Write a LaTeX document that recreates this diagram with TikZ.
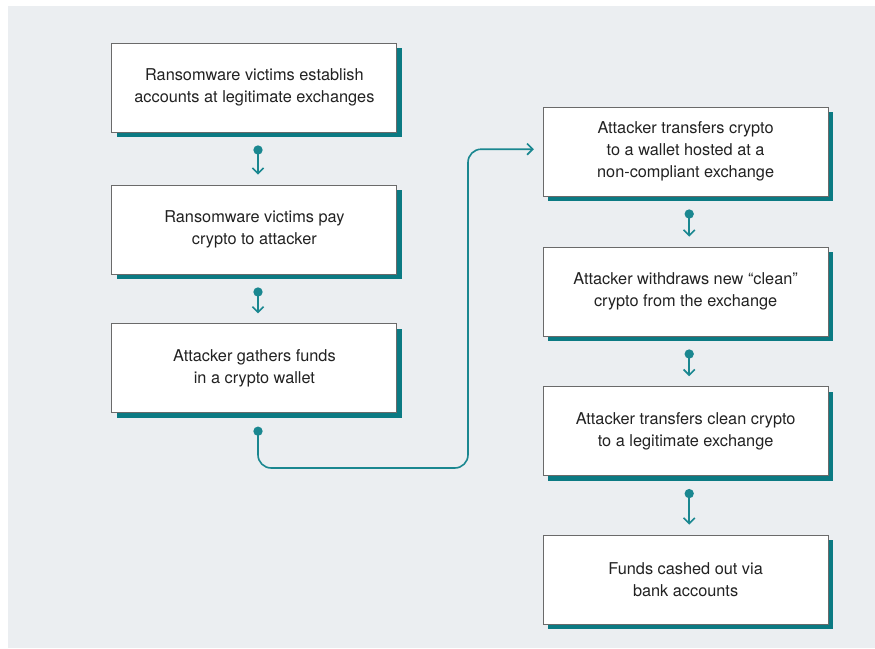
\documentclass[tikz,border=0pt]{standalone}
\usepackage{fontspec}
\setmainfont{TeX Gyre Heros}
\usepackage{xcolor}
\usetikzlibrary{shapes,arrows.meta,shadows}

\definecolor{bgGray}{HTML}{EBEEF1}
\definecolor{tealLine}{HTML}{1A8790}
\definecolor{tealShade}{HTML}{0B7A83}
\definecolor{boxEdge}{HTML}{6A6A6A}
\definecolor{textGray}{HTML}{222222}

\begin{document}
\begin{tikzpicture}
    % Define block styles
    \tikzstyle{stage} = [rectangle, minimum width=7.125cm, minimum height=2.225cm, align=center, draw=boxEdge, line width=0.7pt, fill=white, text=textGray, font=\fontsize{11.6}{15.6}\selectfont, drop shadow={shadow xshift=0.12cm, shadow yshift=-0.12cm, fill=tealShade, opacity=1}]
    \tikzstyle{flow} = [draw=tealLine, line width=1.15pt, {Circle[length=2.3mm]}-{Straight Barb[length=1.4mm, width=2.8mm]}]

    % Background
    \useasboundingbox (0,0) rectangle (21.875,-16.225);
    \fill[bgGray] (0.2,-0.15) rectangle (21.875,-16.2);

    % Draw nodes
    \node (establish) [stage] at (6.36,-2.19) {Ransomware victims establish\\accounts at legitimate exchanges};
    \node (pay) [stage] at (6.36,-5.74) {Ransomware victims pay\\crypto to attacker};
    \node (gather) [stage] at (6.36,-9.21) {Attacker gathers funds\\in a crypto wallet};
    \node (transfer) [stage] at (17.14,-3.79) {Attacker transfers crypto\\to a wallet hosted at a\\non-compliant exchange};
    \node (withdraw) [stage] at (17.14,-7.29) {Attacker withdraws new “clean”\\crypto from the exchange};
    \node (clean) [stage] at (17.14,-10.78) {Attacker transfers clean crypto\\to a legitimate exchange};
    \node (cashout) [stage] at (17.14,-14.49) {Funds cashed out via\\bank accounts};
    \coordinate (bend) at (11.7,-11.7);

    % Draw edges
    \draw [flow] ([shift={(0.09,-0.32)}]establish.south) -- ([shift={(0.09,0.25)}]pay.north);
    \draw [flow] ([shift={(0.09,-0.32)}]pay.south) -- ([shift={(0.09,0.25)}]gather.north);
    \draw [flow, rounded corners=0.33cm] ([shift={(0.09,-0.33)}]gather.south) |- (bend) |- ([shift={(-0.22,0.06)}]transfer.west);
    \draw [flow] ([shift={(0.09,-0.32)}]transfer.south) -- ([shift={(0.09,0.25)}]withdraw.north);
    \draw [flow] ([shift={(0.09,-0.32)}]withdraw.south) -- ([shift={(0.09,0.25)}]clean.north);
    \draw [flow] ([shift={(0.09,-0.32)}]clean.south) -- ([shift={(0.09,0.25)}]cashout.north);

\end{tikzpicture}
\end{document}
